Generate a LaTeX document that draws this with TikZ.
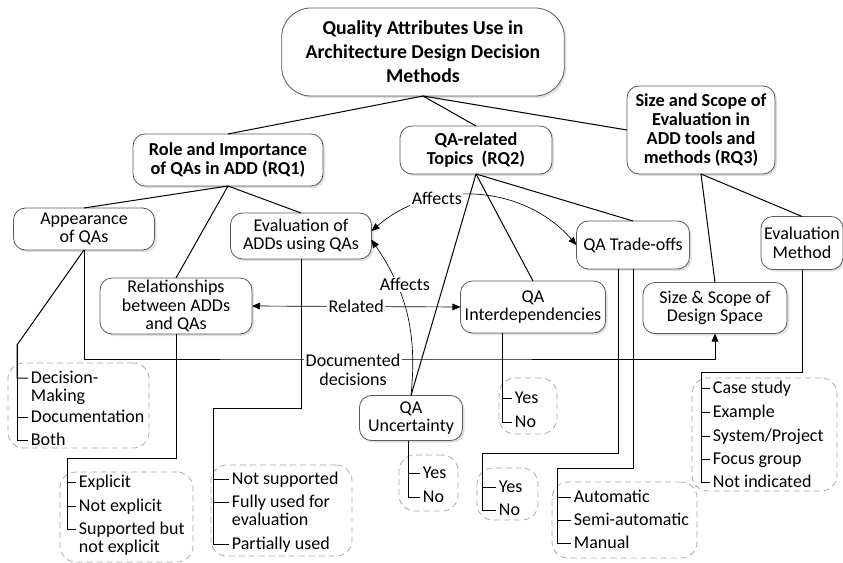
\documentclass[tikz,border=0pt]{standalone}
\usepackage{fontspec}
\setmainfont{Carlito}
\usepackage{tkz-graph}
\usetikzlibrary{arrows.meta,shadows}
\definecolor{BoxLine}{HTML}{5A5A5A}
\definecolor{ListLine}{HTML}{A8A8A8}

\begin{document}
\begin{tikzpicture}[x=0.75pt, y=-0.75pt, font=\fontsize{13.5}{14}\selectfont, >={Triangle[length=6pt,width=5pt]}]
\useasboundingbox (0,0) rectangle (843,563);
\GraphInit[vstyle=Empty]
\tikzset{Box/.style ={shape=rectangle, draw=BoxLine, line width=.6pt, fill=white, rounded corners=9pt, align=center, inner sep=0pt, drop shadow={shadow xshift=1.5pt, shadow yshift=-1.5pt, opacity=.25}}}
\tikzset{ListBox/.style ={draw=ListLine, dash pattern=on 4.5pt off 3pt, line width=.6pt, rounded corners=12pt}}
\tikzset{Item/.style ={anchor=west, inner sep=2pt, text height=9pt, text depth=.6pt}}
\tikzset{Tree/.style ={line width=.75pt}}
\tikzset{VertexStyle/.style ={Box, rounded corners=22pt, font=\fontsize{14.8}{18}\selectfont\bfseries}}
\Vertex[x=423, y=52, L={Quality Attributes Use in\\Architecture Design Decision\\Methods}, style={minimum width=212pt, minimum height=66pt}]{QA}
\tikzset{VertexStyle/.style ={Box, font=\fontsize{13.7}{14.3}\selectfont\bfseries}}
\Vertex[x=228, y=160, L={Role and Importance\\of QAs in ADD (RQ1)}, style={minimum width=142.5pt, minimum height=39pt}]{RQ1}
\Vertex[x=476, y=150, L={QA-related\\Topics \ (RQ2)}, style={minimum width=114pt, minimum height=36pt}]{RQ2}
\Vertex[x=701, y=130, L={Size and Scope of\\Evaluation in\\ADD tools and\\methods (RQ3)}, style={minimum width=111pt, minimum height=66pt}]{RQ3}
\tikzset{VertexStyle/.style ={Box, font=\fontsize{13.5}{13.8}\selectfont}}
\Vertex[x=84, y=229, L={Appearance\\of QAs}, style={minimum width=105.8pt, minimum height=31.5pt}]{App}
\Vertex[x=301, y=236, L={Evaluation of\\ADDs using QAs}, style={minimum width=105.8pt, minimum height=34.5pt}]{Eval}
\Vertex[x=633, y=245, L={QA Trade-offs}, style={minimum width=84.8pt, minimum height=36pt}]{Trade}
\Vertex[x=802, y=243, L={Evaluation\\Method}, style={minimum width=61.5pt, minimum height=39.8pt}]{Method}
\Vertex[x=176, y=306, L={Relationships\\between ADDs\\and QAs}, style={minimum width=114pt, minimum height=42pt}]{Rel}
\Vertex[x=533, y=307, L={QA\\Interdependencies}, style={minimum width=108.8pt, minimum height=39pt}]{Dep}
\Vertex[x=715, y=308, L={Size \& Scope of\\Design Space}, style={minimum width=108pt, minimum height=38.3pt}]{Space}
\Vertex[x=411, y=418, L={QA\\Uncertainty}, style={minimum width=77.3pt, minimum height=33.8pt}]{Unc}
\tikzset{EdgeStyle/.style ={line width=.75pt}}
\Edge(QA.south)(RQ1.north)
\Edge(QA.south)(RQ2.north)
\Edge(QA.south)(RQ3.west)
\Edge(RQ1.south)(App.north)
\Edge(RQ1.south)(Rel.north)
\Edge(RQ1.south)(Eval.north)
\Edge(RQ2.south)(Unc.north)
\Edge(RQ2.south)(Dep.north)
\Edge(RQ2.south)(Trade.north)
\Edge(RQ3.south)(Method.north)
\Edge(RQ3.south)(Space.north)
\node[ListBox, minimum width=105.8pt, minimum height=63.8pt] (AppBox) at (78.5,405.5) {};
\node[ListBox, minimum width=99.8pt, minimum height=67.5pt] (RelBox) at (126.5,517) {};
\node[ListBox, minimum width=105.8pt, minimum height=68.3pt] (EvalBox) at (281.5,510.5) {};
\node[ListBox, minimum width=44.3pt, minimum height=42pt] (UncBox) at (428.5,483) {};
\node[ListBox, minimum width=43.5pt, minimum height=42pt] (DepBox) at (528,406) {};
\node[ListBox, minimum width=45.8pt, minimum height=39pt] (TrdBoxA) at (507.5,494) {};
\node[ListBox, minimum width=108.8pt, minimum height=57pt] (TrdBoxB) at (624.5,520) {};
\node[ListBox, minimum width=108.8pt, minimum height=84.8pt] (MetBox) at (764.5,434.5) {};
\node[Item] (AppDec) at (28,378) {Decision-};
\node[Item] (AppMak) at (28,396) {Making};
\node[Item] (AppDoc) at (28,417) {Documentation};
\node[Item] (AppBoth) at (28,440) {Both};
\node[Item] (RelExp) at (76,482) {Explicit};
\node[Item] (RelNot) at (76,506) {Not explicit};
\node[Item] (RelSup) at (76,529) {Supported but};
\node[Item] (RelSupB) at (76,547) {not explicit};
\node[Item] (EvalNot) at (229,479) {Not supported};
\node[Item] (EvalFull) at (229,502) {Fully used for};
\node[Item] (EvalFullB) at (229,520) {evaluation};
\node[Item] (EvalPart) at (229,544) {Partially used};
\node[Item] (UncYes) at (420,473) {Yes};
\node[Item] (UncNo) at (420,497) {No};
\node[Item] (DepYes) at (512,398) {Yes};
\node[Item] (DepNo) at (512,422) {No};
\node[Item] (TrdYes) at (496,487) {Yes};
\node[Item] (TrdNo) at (496,510) {No};
\node[Item] (TrdAut) at (571,497) {Automatic};
\node[Item] (TrdSemi) at (571,520) {Semi-automatic};
\node[Item] (TrdMan) at (571,543) {Manual};
\node[Item] (MetCase) at (710,388) {Case study};
\node[Item] (MetEx) at (710,412) {Example};
\node[Item] (MetSys) at (710,436) {System/Project};
\node[Item] (MetFoc) at (710,459) {Focus group};
\node[Item] (MetNot) at (710,482) {Not indicated};
\coordinate (AppC) at (17,345);
\coordinate (RelC) at (67,458);
\coordinate (EvalC) at (213,408);
\coordinate (UncC) at ([xshift=-2.25pt]Unc.south);
\coordinate (DepC) at ([xshift=-23.25pt]Dep.south);
\coordinate (TrdT) at ([xshift=-11.25pt]Trade.south);
\coordinate (TrdCA) at (482,453);
\coordinate (TrdCB) at (557,468);
\coordinate (MetC) at (701,372);
\draw[Tree] (App.south) -- (AppC) |- (AppDec.west);
\draw[Tree] (AppC) |- (AppDoc.west);
\draw[Tree] (AppC) |- (AppBoth.west);
\draw[Tree] (Rel.south) |- (RelC) |- (RelExp.west);
\draw[Tree] (RelC) |- (RelNot.west);
\draw[Tree] (RelC) |- (RelSup.west);
\draw[Tree] (Eval.south) |- (EvalC) |- (EvalNot.west);
\draw[Tree] (EvalC) |- (EvalFull.west);
\draw[Tree] (EvalC) |- (EvalPart.west);
\draw[Tree] (UncC) |- (UncYes.west);
\draw[Tree] (UncC) |- (UncNo.west);
\draw[Tree] (DepC) |- (DepYes.west);
\draw[Tree] (DepC) |- (DepNo.west);
\draw[Tree] (TrdT) |- (TrdCA) |- (TrdYes.west);
\draw[Tree] (TrdCA) |- (TrdNo.west);
\draw[Tree] (Trade.south) |- (TrdCB) |- (TrdAut.west);
\draw[Tree] (TrdCB) |- (TrdSemi.west);
\draw[Tree] (TrdCB) |- (TrdMan.west);
\draw[Tree] (Method.south) |- (MetC) |- (MetCase.west);
\draw[Tree] (MetC) |- (MetEx.west);
\draw[Tree] (MetC) |- (MetSys.west);
\draw[Tree] (MetC) |- (MetFoc.west);
\draw[Tree] (MetC) |- (MetNot.west);
\coordinate (DocC) at (353,359);
\draw[->, line width=.5pt] (App.south) |- (DocC) -| (Space.south);
\node[fill=white, inner sep=1pt, align=center] (Doc) at (353,370) {Documented\\decisions};
\tikzset{EdgeStyle/.style ={<->, line width=.5pt}}
\tikzset{LabelStyle/.style ={fill=white, inner sep=1pt}}
\Edge[label=Related](Rel.east)(Dep.west)
\tikzset{LabelStyle/.style ={fill=white, inner sep=1pt, pos=.32}}
\Edge[label=Affects, style={bend left=45}](Eval.4)(Trade.west)
\tikzset{EdgeStyle/.style ={->, line width=.5pt}}
\tikzset{LabelStyle/.style ={fill=white, inner sep=1pt, pos=.7, xshift=6pt}}
\Edge[label=Affects, style={bend right=20}](Unc.north)(Eval.-3)
\end{tikzpicture}
\end{document}
